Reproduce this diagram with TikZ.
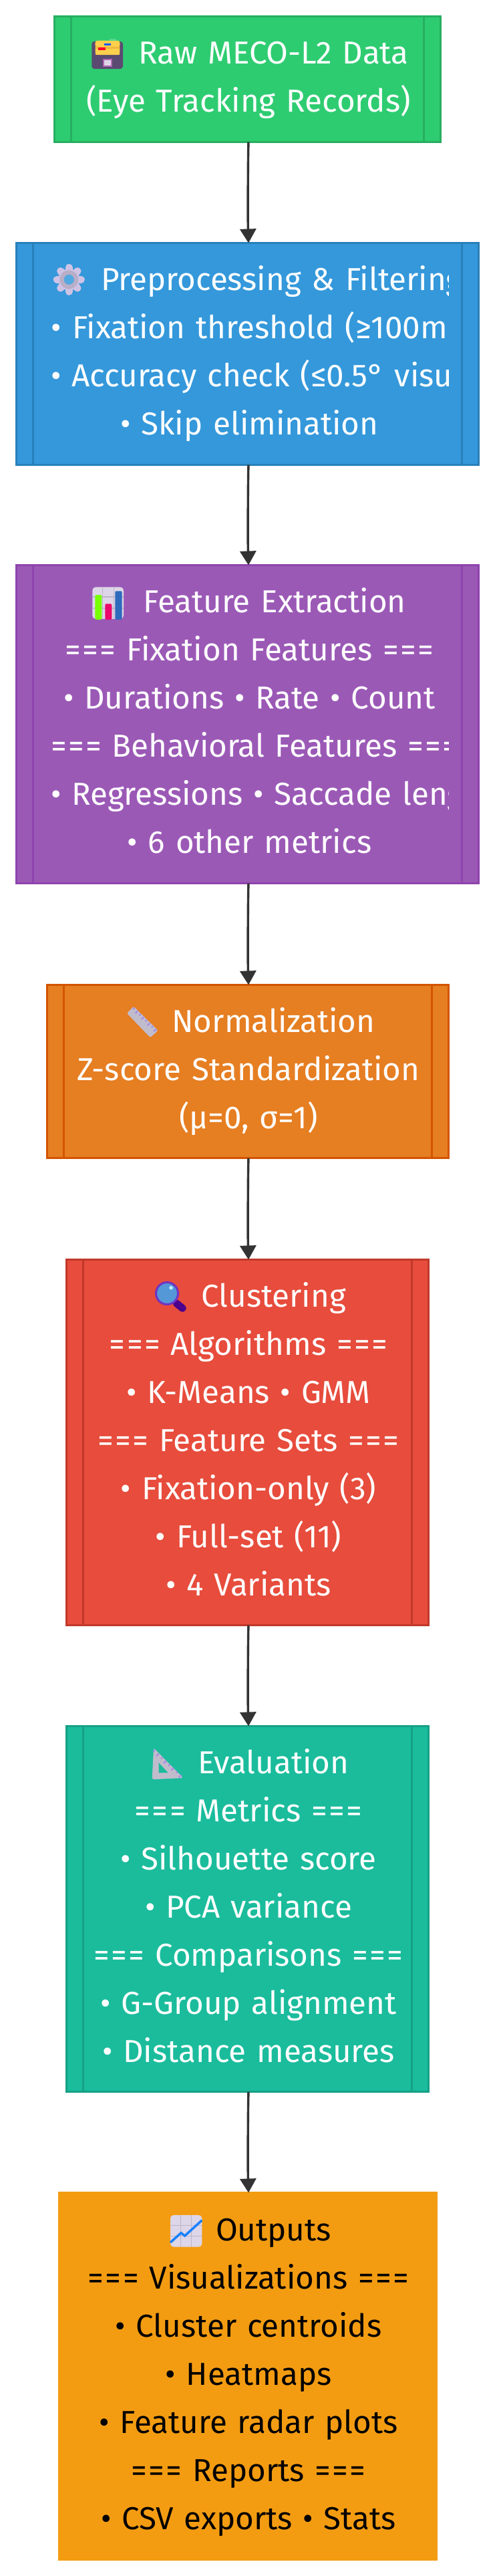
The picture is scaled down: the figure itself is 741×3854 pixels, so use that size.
\documentclass[tikz,border=0pt]{standalone}
\usepackage{fontspec}
\usetikzlibrary{arrows.meta,calc}
\setmainfont{Fira Sans}
\newfontfamily\emojifont{Noto Emoji}
\newcommand\lineitem[1]{\mbox{\rule[-23pt]{0pt}{72pt}#1}}
\newcommand\icogap{\hspace{75pt}}
\newcommand\eqs{=\kern2.4pt=\kern2.4pt=}
\definecolor{cA}{HTML}{2ECC71}\definecolor{sA}{HTML}{27AE60}
\definecolor{cB}{HTML}{3498DB}\definecolor{sB}{HTML}{2980B9}
\definecolor{cC}{HTML}{9B59B6}\definecolor{sC}{HTML}{8E44AD}
\definecolor{cD}{HTML}{E67E22}\definecolor{sD}{HTML}{D35400}
\definecolor{cE}{HTML}{E74C3C}\definecolor{sE}{HTML}{C0392B}
\definecolor{cF}{HTML}{1ABC9C}\definecolor{sF}{HTML}{16A085}
\definecolor{cG}{HTML}{F39C12}
\definecolor{edgec}{HTML}{333333}
\definecolor{tile}{HTML}{DDD6E8}\definecolor{gridc}{HTML}{BDB6C8}
\definecolor{steel}{HTML}{C0BCCC}\definecolor{tick}{HTML}{A78BEA}
\definecolor{gearc}{HTML}{CFC3E5}\definecolor{gearring}{HTML}{B8AEC8}
\definecolor{drawerc}{HTML}{5A4A72}\definecolor{filec}{HTML}{FFCF4D}\definecolor{filed}{HTML}{F2B93C}
\tikzset{
  boxshape/.style={rectangle,line width=3pt,inner sep=0pt,outer sep=0pt},
  lbl/.style={inner sep=0pt,outer sep=0pt,text width=595pt,align=center,text=white,font=\fontsize{47.5pt}{72pt}\selectfont},
  emo/.style={inner sep=0pt,outer sep=0pt,font=\emojifont\fontsize{#1}{#1}\selectfont},
  edgeline/.style={line width=3.4pt,draw=edgec,-{Triangle[width=24pt,length=21pt]},shorten >=0pt},
  tickmark/.style={draw=tick,line width=2.2pt},
}
\begin{document}
\begin{tikzpicture}[x=1pt,y=-1pt]
\useasboundingbox (0,0) rectangle (741,3854);
\fill[white] (0,0) rectangle (741,3854);
\node[boxshape,fill=cA,draw=sA,minimum width=578pt,minimum height=188pt] (b1) at (370.5,118.5) {};
\node[boxshape,fill=cB,draw=sB,minimum width=692pt,minimum height=332pt] (b2) at (370.5,529.5) {};
\node[boxshape,fill=cC,draw=sC,minimum width=692pt,minimum height=476pt] (b3) at (370.5,1083.5) {};
\node[boxshape,fill=cD,draw=sD,minimum width=601pt,minimum height=259pt] (b4) at (370.5,1603) {};
\node[boxshape,fill=cE,draw=sE,minimum width=542pt,minimum height=547pt] (b5) at (370.5,2158) {};
\node[boxshape,fill=cF,draw=sF,minimum width=542pt,minimum height=547pt] (b6) at (370.5,2856) {};
\node[boxshape,fill=cG,draw=cG,minimum width=565pt,minimum height=549pt] (b7) at (370.5,3555) {};
\foreach \n/\s in {b1/sA,b2/sB,b3/sC,b4/sD,b5/sE,b6/sF}{
  \draw[line width=3pt,draw=\s] ($(\n.north west)+(25,0)$) -- ($(\n.south west)+(25,0)$);
  \draw[line width=3pt,draw=\s] ($(\n.north east)+(-25,0)$) -- ($(\n.south east)+(-25,0)$);
}
\node[lbl] (t1) at (372,118.5) {\lineitem{\icogap Raw MECO-L2 Data}\\\lineitem{(Eye Tracking Records)}};
\begin{scope}
\clip (76,362) rectangle (671,697);
\node[lbl] (t2) at (373.5,529.5) {\lineitem{\icogap Preprocessing \& Filtering}\\\lineitem{• Fixation threshold (≥100m}\\\lineitem{• Accuracy check (≤0.5° visu}\\\lineitem{• Skip elimination}};
\end{scope}
\begin{scope}
\clip (76,845) rectangle (671,1323);
\node[lbl] (t3) at (373.5,1083.5) {\lineitem{\icogap Feature Extraction}\\\lineitem{\eqs{} Fixation Features \eqs}\\\lineitem{• Durations • Rate • Count}\\\lineitem{\eqs{} Behavioral Features \eqs}\\\lineitem{• Regressions • Saccade leng}\\\lineitem{• 6 other metrics}};
\end{scope}
\node[lbl] (t4) at (372,1603) {\lineitem{\icogap Normalization}\\\lineitem{Z-score Standardization}\\\lineitem{(μ=0, σ=1)}};
\node[lbl] (t5) at (372,2158) {\lineitem{\icogap Clustering}\\\lineitem{\eqs{} Algorithms \eqs}\\\lineitem{• K-Means • GMM}\\\lineitem{\eqs{} Feature Sets \eqs}\\\lineitem{• Fixation-only (3)}\\\lineitem{• Full-set (11)}\\\lineitem{• 4 Variants}};
\node[lbl] (t6) at (372,2856) {\lineitem{\icogap Evaluation}\\\lineitem{\eqs{} Metrics \eqs}\\\lineitem{• Silhouette score}\\\lineitem{• PCA variance}\\\lineitem{\eqs{} Comparisons \eqs}\\\lineitem{• G-Group alignment}\\\lineitem{• Distance measures}};
\node[lbl,text=black] (t7) at (372,3555) {\lineitem{\icogap Outputs}\\\lineitem{\eqs{} Visualizations \eqs}\\\lineitem{• Cluster centroids}\\\lineitem{• Heatmaps}\\\lineitem{• Feature radar plots}\\\lineitem{\eqs{} Reports \eqs}\\\lineitem{• CSV exports • Stats}};
% --- emoji: the character, with its coloured drawing over it
\node[emo=30pt,text=drawerc] (e1) at (160.5,82) {🗃};
\fill[drawerc,rounded corners=4pt] (137.3,62) rectangle (184,103);
\fill[filed,rounded corners=3pt] (142.7,61) rectangle (179.3,82);
\fill[filec,rounded corners=3pt] (142.7,61) rectangle (179.3,70);
\fill[filec] (142.7,73) rectangle (179.3,82);
\fill[blue!65!cyan] (155.7,65) rectangle (165.7,68);
\fill[red!85!magenta] (147.3,71) rectangle (157.7,74.7);
\fill[cA!80!white] (164,58) rectangle (174,61);
\filldraw[fill=tile,draw=violet!60!white,line width=2pt] (155,89) rectangle (167,98.5);
\node[emo=30pt,text=gearc] (e2) at (103.3,418.3) {⚙};
\foreach \a in {0,45,...,315}{
  \draw[gearc,line width=11pt,line cap=round] (103.3,418.3) -- ++(\a:18);
}
\fill[gearc] (103.3,418.3) circle (16);
\fill[gearring] (103.3,418.3) circle (14);
\fill[cB!85!white] (103.3,418.3) circle (7.5);
\node[emo=34pt,text=tile] (e3) at (161.7,902) {📊};
\fill[tile,rounded corners=5pt] (138.3,878.3) rectangle (185,926);
\draw[gridc,line width=1.5pt] (153.3,878.3) -- (153.3,926) (170.7,878.3) -- (170.7,926) (138.3,893) -- (185,893) (138.3,910) -- (185,910);
\fill[green!55!lime!80!yellow,rounded corners=2pt] (142.3,890) rectangle (152.3,927);
\fill[magenta!70!red,rounded corners=2pt] (157.3,903.3) rectangle (167.3,927);
\fill[cyan!40!blue!90!white,rounded corners=2pt] (172.3,884.3) rectangle (182.7,927);
\node[emo=12pt,text=steel] (e4) at (213.5,1529) {📏};
\fill[steel,rounded corners=2.5pt] (200,1505.7) -- (236.7,1541.7) -- (225,1552.3) -- (190,1516) -- cycle;
\foreach \i/\l in {0/3,1/5,2/3,3/5,4/3,5/5,6/3,7/5}{
  \draw[tickmark] ($(201.5,1508)+\i*(4.6,4.5)$) -- ++(-\l*0.7,\l*0.7);
}
\node[emo=20pt,text=cyan] (e5) at (250,1935) {🔍};
\draw[violet!70!blue!85!black,line width=11pt,line cap=round] (264.3,1950) -- (273.3,1957.3);
\filldraw[fill=cyan!60!blue!70!white,draw=blue!40!violet!80!white,line width=3pt] (250,1935) circle (16.5);
\fill[white!75!cyan] (256,1926.7) circle (2.8);
\node[emo=14pt,text=steel] (e6) at (241,2650) {📐};
\fill[steel,rounded corners=3pt] (230,2615) -- (274.3,2660) -- (227.7,2662.3) -- cycle;
\fill[cF] (237.7,2637.3) -- (251.7,2652.3) -- (237.7,2652.3) -- cycle;
\foreach \i/\l in {0/3,1/5,2/3,3/5,4/3,5/5,6/3,7/5}{
  \draw[tickmark] ($(232,2618.5)+\i*(5.6,5.3)$) -- ++(-\l*0.7,\l*0.7);
}
\node[emo=34pt,text=tile] (e7) at (278.6,3338) {📈};
\fill[tile,rounded corners=5pt] (255,3314) rectangle (302.3,3361.7);
\draw[gridc,line width=1.5pt] (270.7,3314) -- (270.7,3361.7) (286.7,3314) -- (286.7,3361.7) (255,3329.3) -- (302.3,3329.3) (255,3345.7) -- (302.3,3345.7);
\draw[blue!55!cyan!90!white,line width=3.5pt] (255,3355) -- (271,3340.7) -- (276.7,3345) -- (302.3,3321.7);
\foreach \a/\b in {b1/b2,b2/b3,b3/b4,b4/b5,b5/b6,b6/b7}{
  \draw[edgeline] ([xshift=1.5pt]\a.south) .. controls +(-1,30) and +(-1,-30) .. ([xshift=1.5pt]\b.north);
}
\end{tikzpicture}
\end{document}
